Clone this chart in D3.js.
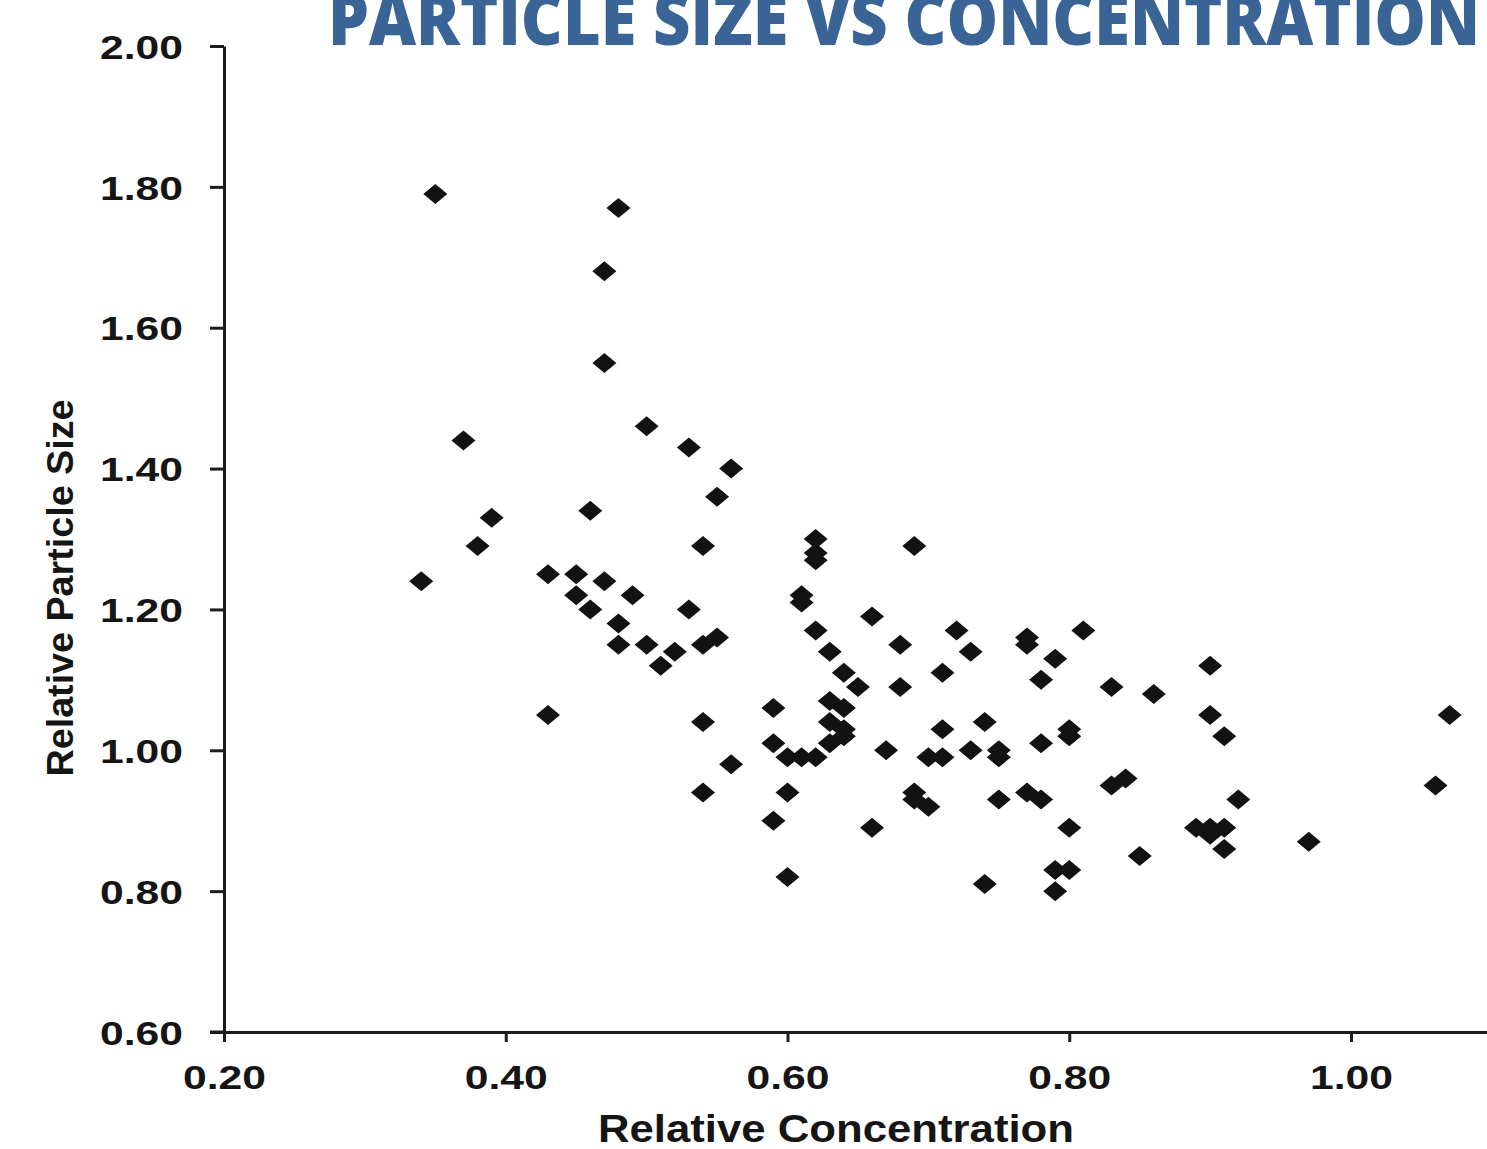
<!DOCTYPE html>
<html>
<head>
<meta charset="utf-8">
<script src="https://cdn.jsdelivr.net/npm/d3@7"></script>
<style>
  body { margin: 0; background: #fff; }
  svg { display: block; }
</style>
</head>
<body>
<svg id="scatter-plot"></svg>
<script>
const W = 1487, H = 1149;

// Relative concentration / relative particle size
const concentration = [
  0.34, 0.35, 0.37, 0.38, 0.39, 0.43, 0.43, 0.45, 0.45, 0.46,
  0.46, 0.47, 0.47, 0.47, 0.48, 0.48, 0.48, 0.49, 0.50, 0.50,
  0.51, 0.52, 0.53, 0.53, 0.54, 0.54, 0.54, 0.54, 0.55, 0.55,
  0.56, 0.56, 0.59, 0.59, 0.59, 0.60, 0.60, 0.60, 0.61, 0.61,
  0.61, 0.62, 0.62, 0.62, 0.62, 0.62, 0.63, 0.63, 0.63, 0.63,
  0.64, 0.64, 0.64, 0.64, 0.65, 0.66, 0.66, 0.67, 0.68, 0.68,
  0.69, 0.69, 0.69, 0.70, 0.70, 0.71, 0.71, 0.71, 0.72, 0.73,
  0.73, 0.74, 0.74, 0.75, 0.75, 0.75, 0.77, 0.77, 0.77, 0.78,
  0.78, 0.78, 0.79, 0.79, 0.79, 0.80, 0.80, 0.80, 0.80, 0.81,
  0.83, 0.83, 0.84, 0.85, 0.86, 0.89, 0.90, 0.90, 0.90, 0.90,
  0.91, 0.91, 0.91, 0.92, 0.97, 1.06, 1.07
];
const particleSize = [
  1.24, 1.79, 1.44, 1.29, 1.33, 1.25, 1.05, 1.25, 1.22, 1.34,
  1.20, 1.68, 1.55, 1.24, 1.77, 1.18, 1.15, 1.22, 1.46, 1.15,
  1.12, 1.14, 1.43, 1.20, 1.29, 1.15, 1.04, 0.94, 1.36, 1.16,
  1.40, 0.98, 1.06, 1.01, 0.90, 0.94, 0.82, 0.99, 0.99, 1.22,
  1.21, 1.30, 1.28, 1.27, 1.17, 0.99, 1.14, 1.07, 1.04, 1.01,
  1.11, 1.06, 1.03, 1.02, 1.09, 1.19, 0.89, 1.00, 1.15, 1.09,
  1.29, 0.94, 0.93, 0.99, 0.92, 1.11, 1.03, 0.99, 1.17, 1.14,
  1.00, 1.04, 0.81, 1.00, 0.99, 0.93, 1.16, 1.15, 0.94, 1.10,
  1.01, 0.93, 1.13, 0.83, 0.80, 1.03, 1.02, 0.89, 0.83, 1.17,
  1.09, 0.95, 0.96, 0.85, 1.08, 0.89, 1.12, 1.05, 0.89, 0.88,
  1.02, 0.89, 0.86, 0.93, 0.87, 0.95, 1.05
];
const xTicks = [0.2, 0.4, 0.6, 0.8, 1.0];
const yTicks = [0.6, 0.8, 1.0, 1.2, 1.4, 1.6, 1.8, 2.0];

const data = concentration.map((x, i) => ({ x, y: particleSize[i] }));

const svg = d3.select("#scatter-plot")
  .attr("width", W)
  .attr("height", H);

const xScale = d3.scaleLinear()
  .domain([0.2, 1.2])
  .range([224, 224 + 1408.75]);

const yScale = d3.scaleLinear()
  .domain([0.6, 2.0])
  .range([1032, 46]);

const fmt = d3.format(".2f");

// x axis
const xAxisG = svg.append("g")
  .attr("transform", "translate(0,1032)")
  .call(d3.axisBottom(xScale).tickValues(xTicks).tickFormat(fmt).tickSize(10).tickSizeOuter(0));

// y axis
const yAxisG = svg.append("g")
  .attr("transform", "translate(224,0)")
  .call(d3.axisLeft(yScale).tickValues(yTicks).tickFormat(fmt).tickSize(14).tickSizeOuter(0));

[xAxisG, yAxisG].forEach(g => {
  g.select(".domain").attr("stroke", "#1c1c1c").attr("stroke-width", 3);
  g.selectAll(".tick line").attr("stroke", "#1c1c1c").attr("stroke-width", 3);
  g.selectAll(".tick text")
    .attr("fill", "#151515")
    .style("font-family", "'Liberation Sans', Arial, sans-serif")
    .style("font-weight", "bold")
    .style("font-size", "34px")
    .attr("textLength", 83)
    .attr("lengthAdjust", "spacingAndGlyphs");
});
xAxisG.selectAll(".tick text").attr("y", 33).attr("dy", "0.71em");
yAxisG.selectAll(".tick text").attr("x", -41).attr("dy", "0.36em");

// x axis line continues past the y axis, y axis continues below x axis
svg.append("line")
  .attr("x1", 210).attr("x2", 224)
  .attr("y1", yScale(0.6)).attr("y2", yScale(0.6))
  .attr("stroke", "#1c1c1c").attr("stroke-width", 3);

// points
svg.selectAll("path.pt")
  .data(data)
  .enter()
  .append("path")
  .attr("class", "pt")
  .attr("d", "M0,-10L12,0L0,10L-12,0Z")
  .attr("transform", d => `translate(${xScale(d.x)},${yScale(d.y)})`)
  .attr("fill", "#121212");

// axis titles
svg.append("text")
  .attr("x", 836)
  .attr("y", 1142)
  .attr("text-anchor", "middle")
  .style("font-family", "'Liberation Sans', Arial, sans-serif")
  .style("font-weight", "bold")
  .style("font-size", "38px")
  .attr("textLength", 476)
  .attr("lengthAdjust", "spacingAndGlyphs")
  .attr("fill", "#151515")
  .text("Relative Concentration");

svg.append("text")
  .attr("transform", "translate(73,588) rotate(-90)")
  .attr("text-anchor", "middle")
  .style("font-family", "'Liberation Sans', Arial, sans-serif")
  .style("font-weight", "bold")
  .style("font-size", "37px")
  .attr("textLength", 377)
  .attr("lengthAdjust", "spacingAndGlyphs")
  .attr("fill", "#151515")
  .text("Relative Particle Size");

// title (clipped at the top in the original as well)
svg.append("text")
  .attr("x", 328)
  .attr("y", 45)
  .style("font-family", "'Open Sans', sans-serif")
  .style("font-weight", "800")
  .style("font-size", "70px")
  .attr("textLength", 1152)
  .attr("lengthAdjust", "spacingAndGlyphs")
  .attr("fill", "#3a6396")
  .text("PARTICLE SIZE VS CONCENTRATION");
</script>
</body>
</html>
